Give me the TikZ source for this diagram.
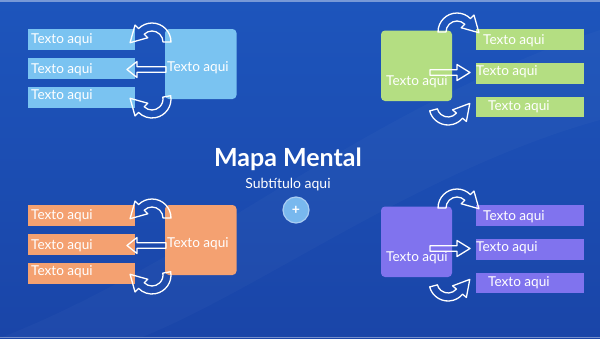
\documentclass[tikz,border=0pt]{standalone}
\usepackage{fontspec}
\setmainfont{Lato}

\definecolor{bgtop}{HTML}{1D55BC}
\definecolor{bgmid}{HTML}{2260C4}
\definecolor{bgbot}{HTML}{1A45A8}
\definecolor{skyblue}{HTML}{7AC3F1}
\definecolor{peach}{HTML}{F4A171}
\definecolor{leafgreen}{HTML}{B4DE82}
\definecolor{violet}{HTML}{8073EE}
\definecolor{plusblue}{HTML}{78B8EE}
\definecolor{plusring}{HTML}{A9CDF2}

\tikzset{
  leaftext/.style={text=white, inner sep=0pt, anchor=west, font=\fontsize{13.6}{15}\selectfont},
  arrowline/.style={draw=white, line width=1.3pt, line join=round}
}

% curved block arrow: centre, start angle, end angle, turning sense (+1/-1)
\newcommand{\bendarrow}[4]{%
  \pgfmathsetmacro\tipx{15*cos(#3)+16*cos(#3+#4*90)}
  \pgfmathsetmacro\tipy{15*sin(#3)+16*sin(#3+#4*90)}
  \begin{scope}[shift={(#1)}]
    \draw[arrowline] (#2:19) arc[start angle=#2, end angle=#3, radius=19]
      -- (#3:24) -- (\tipx,\tipy) -- (#3:6) -- (#3:11)
      arc[start angle=#3, end angle=#2, radius=11] -- cycle;
  \end{scope}}

% straight block arrow: tail x, head base x, tip x, y
\newcommand{\flatarrow}[4]{%
  \draw[arrowline] (#1,#4-2.7) -- (#2,#4-2.7) -- (#2,#4-8) -- (#3,#4)
    -- (#2,#4+8) -- (#2,#4+2.7) -- (#1,#4+2.7) -- cycle;}

\begin{document}
\begin{tikzpicture}[x=1pt, y=-1pt]
\useasboundingbox (0,0) rectangle (600,338);

% background
\shade[top color=bgtop, middle color=bgmid, bottom color=bgbot] (0,0) rectangle (600,338);
\fill[white, opacity=0.025] (0,338) .. controls (200,260) and (360,110) .. (600,30)
  -- (600,120) .. controls (420,170) and (260,290) .. (140,338) -- cycle;
\draw[white!40!bgtop, line width=1.5pt] (0,0.75) -- (600,0.75);
\draw[white!40!bgbot, line width=1.5pt] (0,337.25) -- (600,337.25);

% left clusters
\foreach \dy/\tone in {0/skyblue, 176/peach} {
  \begin{scope}[shift={(0,\dy)}]
    \fill[\tone] (27.5,29) rectangle (135,50);
    \fill[\tone] (27.5,58) rectangle (135,79);
    \fill[\tone] (27.5,87) rectangle (135,108);
    \fill[\tone, rounded corners=4pt] (165,29) rectangle (236.5,99);
    \node[leaftext] (l\dy a) at (31,39.5) {Texto aqui};
    \node[leaftext] (l\dy b) at (31,69.5) {Texto aqui};
    \node[leaftext] (l\dy c) at (31,96) {Texto aqui};
    \node[leaftext] (l\dy main) at (167,68) {Texto aqui};
    \bendarrow{152,42}{0}{-135}{-1}
    \bendarrow{152,99}{-10}{135}{1}
    \flatarrow{166}{137}{127}{69.5}
  \end{scope}
}

% right clusters
\foreach \dy/\tone in {0/leafgreen, 176/violet} {
  \begin{scope}[shift={(0,\dy)}]
    \fill[\tone, rounded corners=4pt] (381,30.5) rectangle (452,101);
    \fill[\tone] (476,29) rectangle (584,50);
    \fill[\tone] (476,63) rectangle (584,84);
    \fill[\tone] (476,97) rectangle (584,117);
    \node[leaftext] (r\dy main) at (386,82) {Texto aqui};
    \node[leaftext] (r\dy a) at (483,40.5) {Texto aqui};
    \node[leaftext] (r\dy b) at (476,72) {Texto aqui};
    \node[leaftext] (r\dy c) at (488,107) {Texto aqui};
    \bendarrow{457,32}{-180}{-45}{1}
    \bendarrow{448,106}{165}{40}{-1}
    \flatarrow{430}{457}{470}{72.5}
  \end{scope}
}

% centre
\node[text=white, font=\bfseries\fontsize{25}{29}\selectfont] (title) at (288,159) {Mapa Mental};
\node[text=white, font=\fontsize{14}{16}\selectfont] (subtitle) at (288,185) {Subtítulo aqui};
\node[circle, fill=plusblue, draw=plusring, line width=1.2pt, minimum size=26pt, inner sep=0pt,
  text=white, font=\bfseries\fontsize{14}{14}\selectfont] (plus) at (296,210) {+};
\end{tikzpicture}
\end{document}
